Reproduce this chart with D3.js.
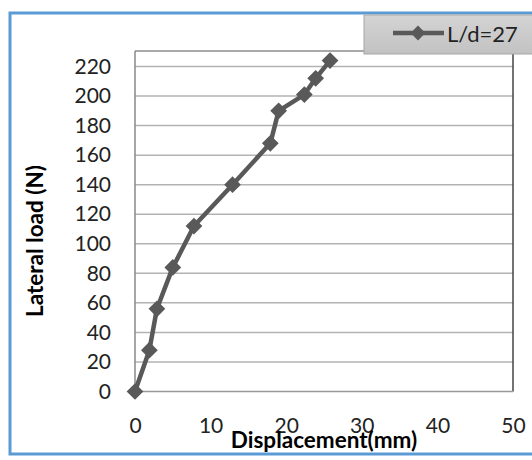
<!DOCTYPE html>
<html><head><meta charset="utf-8">
<script src="https://cdn.jsdelivr.net/npm/d3@7"></script>
<style>body{margin:0;background:#fff}svg{display:block}</style>
</head><body>
<script>
const displacement = [0, 1.9, 2.9, 5, 7.8, 12.9, 17.9, 19, 22.4, 23.9, 25.8];
const lateralLoad = [0, 28, 56, 84, 112, 140, 168, 190, 201, 212, 224];
const xTicks = [0, 10, 20, 30, 40, 50];
const yTicks = [0, 20, 40, 60, 80, 100, 120, 140, 160, 180, 200, 220];
const seriesName = "L/d=27";

(function () {
const W = 532, H = 460;
const svg = d3.select("body").append("svg").attr("width", W).attr("height", H);
const font = "Lato, 'Open Sans', sans-serif";

svg.append("rect").attr("x", 10).attr("y", 13).attr("width", 540).attr("height", 441)
  .attr("fill", "#fff").attr("stroke", "#5b9bd5").attr("stroke-width", 3);

const pL = 135, pR = 513, pT = 51, pB = 391.5;
const x = d3.scaleLinear().domain([0, 50]).range([pL, pR]);
const y = d3.scaleLinear().domain([0, 230.5]).range([pB, pT]);

svg.append("g").selectAll("line").data(yTicks.filter(d => d > 0)).join("line")
  .attr("x1", pL).attr("x2", pR).attr("y1", d => y(d)).attr("y2", d => y(d))
  .attr("stroke", "#b3b3b3").attr("stroke-width", 1.5);

svg.append("line").attr("x1", pL).attr("x2", pR).attr("y1", pT).attr("y2", pT).attr("stroke", "#555").attr("stroke-width", 1.2);
svg.append("line").attr("x1", pR).attr("x2", pR).attr("y1", pT).attr("y2", pB).attr("stroke", "#444").attr("stroke-width", 1.5);
svg.append("line").attr("x1", pL).attr("x2", pR).attr("y1", pB).attr("y2", pB).attr("stroke", "#999").attr("stroke-width", 1.5);
svg.append("line").attr("x1", pL).attr("x2", pL).attr("y1", pT).attr("y2", pB).attr("stroke", "#888").attr("stroke-width", 1.5);

const yAxis = d3.axisLeft(y).tickValues(yTicks).tickSize(0).tickPadding(24);
svg.append("g").attr("transform", `translate(${pL},0)`).call(yAxis)
  .call(g => g.select(".domain").remove())
  .selectAll("text").attr("font-family", font).attr("font-size", 21).attr("fill", "#222");

const xAxis = d3.axisBottom(x).tickValues(xTicks).tickSize(0).tickPadding(27);
svg.append("g").attr("transform", `translate(0,${pB})`).call(xAxis)
  .call(g => g.select(".domain").remove())
  .selectAll("text").attr("font-family", font).attr("font-size", 21).attr("fill", "#222");

svg.append("text").attr("x", 324).attr("y", 448).attr("text-anchor", "middle")
  .attr("font-family", font).attr("font-weight", "bold").attr("font-size", 22.5).attr("fill", "#000")
  .text("Displacement(mm)");
svg.append("text").attr("transform", "translate(43,241) rotate(-90)").attr("text-anchor", "middle")
  .attr("font-family", font).attr("font-weight", "bold").attr("font-size", 22.5).attr("fill", "#000")
  .text("Lateral load (N)");

const pts = displacement.map((d, i) => [d, lateralLoad[i]]);
const lineGen = d3.line().x(d => x(d[0])).y(d => y(d[1]));
svg.append("path").datum(pts).attr("d", lineGen).attr("fill", "none")
  .attr("stroke", "#595959").attr("stroke-width", 4.5).attr("stroke-linejoin", "round");
svg.append("g").selectAll("path").data(pts).join("path")
  .attr("transform", d => `translate(${x(d[0])},${y(d[1])}) rotate(45)`)
  .attr("d", d3.symbol().type(d3.symbolSquare).size(140)).attr("fill", "#595959");

const defs = svg.append("defs");
const lg = defs.append("linearGradient").attr("id", "lg").attr("x1", 0).attr("y1", 0).attr("x2", 0).attr("y2", 1);
lg.append("stop").attr("offset", "0%").attr("stop-color", "#d4d4d4");
lg.append("stop").attr("offset", "100%").attr("stop-color", "#c2c2c2");
svg.append("rect").attr("x", 364).attr("y", 15).attr("width", 180).attr("height", 39)
  .attr("fill", "url(#lg)").attr("stroke", "#a6a6a6").attr("stroke-width", 1);
svg.append("line").attr("x1", 393).attr("x2", 444).attr("y1", 33).attr("y2", 33)
  .attr("stroke", "#595959").attr("stroke-width", 4.5);
svg.append("path").attr("transform", "translate(418,33) rotate(45)")
  .attr("d", d3.symbol().type(d3.symbolSquare).size(110)).attr("fill", "#595959");
svg.append("text").attr("x", 447).attr("y", 42).attr("font-family", font).attr("font-size", 22)
  .attr("fill", "#222").text(seriesName);
})();
</script>
</body></html>
